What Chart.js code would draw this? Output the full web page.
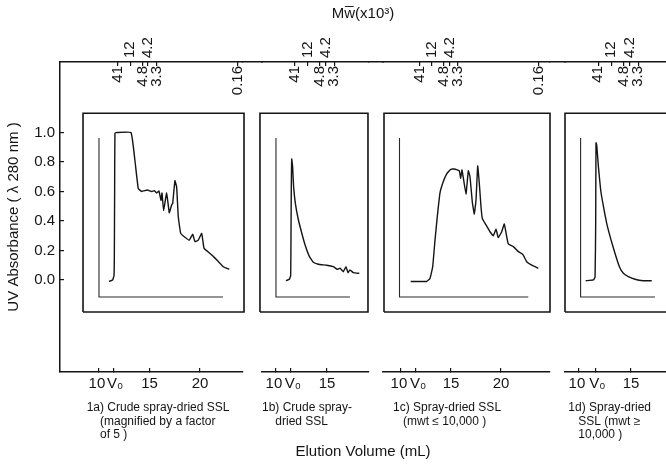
<!DOCTYPE html>
<html><head><meta charset="utf-8">
<script src="https://cdn.jsdelivr.net/npm/chart.js@4.4.1/dist/chart.umd.min.js"></script>
<style>
html,body{margin:0;padding:0;background:#fff;}
#wrap{position:relative;width:666px;height:465px;overflow:hidden;}
#main{position:absolute;left:0;top:0;width:666px;height:465px;}
#over{position:absolute;left:0;top:0;width:666px;height:120px;pointer-events:none;}
</style></head><body>
<div id="wrap"><canvas id="main" width="666" height="465"></canvas><canvas id="over" width="666" height="120"></canvas></div>
<script>
// ---------- data ----------
const panelIds = ['a', 'b', 'c', 'd'];
const captions = [
  ['        1a) Crude spray-dried SSL', '            (magnified by a factor', '            of 5 )'],
  ['1b) Crude spray-', '    dried SSL', ''],
  ['   1c) Spray-dried SSL', '      (mwt \u2264 10,000 )', ''],
  [' 1d) Spray-dried', '    SSL (mwt \u2265', '    10,000 )']
];
const yTicks = [0, 0.2, 0.4, 0.6, 0.8, 1.0];
const volTicks = [[10, 11.4, 15, 20], [10, 11.45, 15], [10, 11.5, 15, 20], [10, 11.55, 15]];
const volTickLabels = [['10 ', ' V\u2080', '15', '20'], ['10 ', ' V\u2080', '15'], ['10 ', ' V\u2080', '15', '20'], ['10 ', ' V\u2080', '15']];
const mwVol = [11.85, 13.1, 14.3, 14.85, 15.7, 23.75];
const mwLabels = ['41', '12', '4.8', '4.2', '3.3', '0.16'];
const mwAbove = [false, true, false, true, false, false];

const volA = [10.99, 11.35, 11.49, 11.52, 11.55, 11.58, 11.75, 13.17, 13.56, 13.89, 14.22, 14.78, 15.22, 15.48, 15.71, 15.94, 16.14, 16.24, 16.4, 16.7, 16.96, 17.2, 17.3, 17.52, 17.69, 17.85, 18.09, 18.51, 18.94, 19.28, 19.5, 19.83, 20.17, 20.4, 20.82, 21.32, 21.81, 22.31, 22.9];
const absA = [-0.01, 0.0, 0.03, 0.16, 0.61, 0.995, 1.0, 1.0, 0.81, 0.62, 0.60, 0.61, 0.60, 0.605, 0.59, 0.603, 0.54, 0.59, 0.47, 0.59, 0.456, 0.51, 0.52, 0.673, 0.63, 0.43, 0.316, 0.29, 0.27, 0.31, 0.26, 0.27, 0.316, 0.215, 0.19, 0.16, 0.125, 0.09, 0.072];
const volB = [10.98, 11.31, 11.44, 11.47, 11.5, 11.54, 11.63, 11.73, 11.9, 12.19, 12.52, 12.84, 13.27, 13.66, 14.15, 14.97, 15.62, 16.01, 16.27, 16.6, 16.86, 17.06, 17.25, 17.58, 18.17];
const absB = [-0.005, 0.005, 0.03, 0.27, 0.61, 0.82, 0.77, 0.63, 0.52, 0.41, 0.32, 0.24, 0.16, 0.12, 0.107, 0.10, 0.09, 0.072, 0.08, 0.056, 0.09, 0.05, 0.068, 0.05, 0.045];
const volC = [10.97, 12.57, 12.9, 13.17, 13.4, 13.63, 13.9, 14.23, 14.57, 14.97, 15.3, 15.63, 15.83, 15.97, 16.1, 16.5, 16.73, 16.9, 17.13, 17.33, 17.5, 17.67, 17.83, 18.0, 18.13, 18.5, 18.9, 19.23, 19.5, 19.73, 20.07, 20.33, 20.57, 20.73, 21.23, 21.73, 22.17, 22.57, 23.07, 23.73];
const absC = [-0.01, -0.01, 0.01, 0.09, 0.27, 0.43, 0.59, 0.667, 0.72, 0.75, 0.752, 0.746, 0.74, 0.69, 0.746, 0.583, 0.74, 0.70, 0.53, 0.447, 0.54, 0.773, 0.655, 0.497, 0.418, 0.373, 0.327, 0.30, 0.344, 0.287, 0.327, 0.38, 0.294, 0.244, 0.226, 0.192, 0.174, 0.124, 0.10, 0.079];
const volD = [10.64, 11.38, 11.54, 11.6, 11.63, 11.7, 11.86, 12.08, 12.34, 12.66, 13.08, 13.46, 13.88, 14.26, 14.74, 15.38, 16.18, 16.99];
const absD = [-0.005, 0.0, 0.02, 0.38, 0.93, 0.915, 0.77, 0.61, 0.50, 0.384, 0.27, 0.18, 0.09, 0.045, 0.023, 0.005, -0.005, -0.005];

// panel frames and inner axes (in data units)
const frameVol = [[8.42, 24.36], [8.43, 19.02], [8.3, 24.9], [8.65, 20]];
const frameAbs = [-0.217, 1.13];
const innerVol = [[10, 22.28], [10, 17.25], [9.85, 22.73], [10.15, 17.3]];
const innerAbs = [-0.115, 0.963];

// axis ranges per panel
const panelRange = [[6.14, 24.26], [8.63, 19.12], [8.2, 24.9], [8.65, 18.36]];
const absRange = [-0.624, 1.478];

// ---------- layout / style ----------
const panelWeights = [183, 107, 167, 101];
const gapWeights = [19, 14, 15];
const F = "'Liberation Sans', Arial, sans-serif";
const INK = '#141414';
const MW_FONT = 15;

const vols = [volA, volB, volC, volD];
const abss = [absA, absB, absC, absD];

function mk(xs, ys) { return xs.map((x, k) => ({x: x, y: ys[k]})); }
function noPad(s) { s.paddingLeft = 0; s.paddingRight = 0; s.paddingTop = 0; s.paddingBottom = 0; }

const datasets = [];
panelIds.forEach((id, i) => {
  const fx = frameVol[i], iv = innerVol[i];
  datasets.push({
    data: [{x: fx[0], y: frameAbs[0]}, {x: fx[1], y: frameAbs[0]}, {x: fx[1], y: frameAbs[1]}, {x: fx[0], y: frameAbs[1]}, {x: fx[0], y: frameAbs[0]}],
    xAxisID: 'x' + id, yAxisID: 'y', borderColor: INK, borderWidth: 1.6, pointRadius: 0, showLine: true, clip: false, borderJoinStyle: 'miter'
  });
  datasets.push({
    data: [{x: iv[0], y: innerAbs[1]}, {x: iv[0], y: innerAbs[0]}, {x: iv[1], y: innerAbs[0]}],
    xAxisID: 'x' + id, yAxisID: 'y', borderColor: '#2a2a2a', borderWidth: 1.1, pointRadius: 0, showLine: true, clip: false
  });
  datasets.push({
    data: mk(vols[i], abss[i]),
    xAxisID: 'x' + id, yAxisID: 'y', borderColor: INK, borderWidth: 1.4, pointRadius: 0, showLine: true, clip: false, tension: 0.1
  });
});

const axisLine = {color: INK, width: 1.5};
const scales = {
  x: {type: 'linear', display: false},
  y: {
    type: 'linear', position: 'left', min: absRange[0], max: absRange[1], bounds: 'data',
    afterBuildTicks: s => { s.ticks = yTicks.map(v => ({value: v})); },
    afterFit: s => { s.width = 60; noPad(s); },
    ticks: {callback: v => Number(v).toFixed(1), font: {size: 15, family: F}, color: INK, padding: 9},
    grid: {drawOnChartArea: false, tickLength: -4, color: INK, lineWidth: 1.2},
    border: axisLine,
    title: {display: true, text: 'UV Absorbance ( \u03bb 280 nm )', font: {size: 15, family: F}, color: INK, padding: {top: 5, bottom: 0}}
  }
};
// bottom elution-volume axes (stacked side by side, left to right)
panelIds.forEach((id, i) => {
  const r = panelRange[i];
  scales['x' + id] = {
    type: 'linear', axis: 'x', position: 'bottom', stack: 'vol', stackWeight: panelWeights[i],
    min: r[0], max: r[1], bounds: 'data',
    afterBuildTicks: s => { s.ticks = volTicks[i].map(v => ({value: v})); },
    afterFit: s => { s.height = 70; noPad(s); },
    ticks: {autoSkip: false, minRotation: 0, maxRotation: 0, padding: 7, font: {size: 15, family: F}, color: INK,
      callback: (v, k) => volTickLabels[i][k]},
    grid: {drawOnChartArea: false, tickLength: -4, color: INK, lineWidth: 1.2},
    border: axisLine,
    title: {display: true, text: captions[i], align: 'start', font: {size: 12, lineHeight: 1.1, family: F}, color: INK, padding: {top: 0, bottom: 1}}
  };
  if (i < 3) {
    scales['xg' + (i + 1)] = {type: 'linear', axis: 'x', position: 'bottom', stack: 'vol', stackWeight: gapWeights[i], min: 0, max: 1, display: false,
      afterFit: noPad};
  }
});
// top Mw axes (labels above the line); top boxes are laid out in reverse order, so define right-to-left
for (let i = panelIds.length - 1; i >= 0; i--) {
  const id = panelIds[i];
  const r = panelRange[i];
  scales['t' + id] = {
    type: 'linear', axis: 'x', position: 'top', stack: 'mw', stackWeight: panelWeights[i],
    min: r[0], max: r[1], bounds: 'data',
    afterBuildTicks: s => { s.ticks = mwVol.filter(v => v >= r[0] && v <= r[1]).map(v => ({value: v})); },
    afterFit: s => { s.height = 40; noPad(s); },
    ticks: {autoSkip: false, minRotation: 90, maxRotation: 90, padding: 8, labelOffset: MW_FONT * 1.2,
      font: {size: MW_FONT, family: F}, color: INK,
      callback: v => { const k = mwVol.indexOf(v); return (k >= 0 && mwAbove[k]) ? mwLabels[k] : ''; }},
    grid: {drawOnChartArea: false, tickLength: -4, color: INK, lineWidth: 1.2},
    border: axisLine
  };
  if (i > 0) {
    scales['tg' + i] = {type: 'linear', axis: 'x', position: 'top', stack: 'mw', stackWeight: gapWeights[i - 1], min: 0, max: 1,
      afterFit: s => { s.height = 40; noPad(s); },
      ticks: {display: false}, grid: {display: false, drawTicks: false}, border: axisLine};
  }
}

new Chart(document.getElementById('main'), {
  type: 'scatter',
  data: {datasets: datasets},
  options: {
    responsive: false, animation: false, devicePixelRatio: 1,
    layout: {padding: {top: 22, left: 0, right: 0, bottom: 0}},
    plugins: {
      legend: {display: false}, tooltip: {enabled: false}, title: {display: false},
      subtitle: {display: true, position: 'bottom', fullSize: false, text: 'Elution Volume (mL)', color: INK,
        font: {size: 15, family: F, weight: 'normal'}, padding: {top: 1, bottom: 4}}
    },
    scales: scales
  }
});

// overlay chart: Mw labels below the top line + title
const oscales = {x: {type: 'linear', display: false}, y: {type: 'linear', display: false}};
panelIds.forEach((id, i) => {
  const r = panelRange[i];
  oscales['o' + id] = {
    type: 'linear', axis: 'x', position: 'bottom', stack: 'mwb', stackWeight: panelWeights[i],
    min: r[0], max: r[1], bounds: 'data',
    afterBuildTicks: s => { s.ticks = mwVol.filter(v => v >= r[0] && v <= r[1]).map(v => ({value: v})); },
    afterFit: s => { s.height = 58; noPad(s); },
    ticks: {autoSkip: false, minRotation: 90, maxRotation: 90, padding: 4, font: {size: MW_FONT, family: F}, color: INK,
      callback: v => { const k = mwVol.indexOf(v); return (k >= 0 && !mwAbove[k]) ? mwLabels[k] : ''; }},
    grid: {display: false, drawTicks: false, drawOnChartArea: false},
    border: {display: false}
  };
  if (i < 3) {
    oscales['og' + (i + 1)] = {type: 'linear', axis: 'x', position: 'bottom', stack: 'mwb', stackWeight: gapWeights[i], min: 0, max: 1, display: false,
      afterFit: noPad};
  }
});
new Chart(document.getElementById('over'), {
  type: 'scatter',
  data: {datasets: []},
  options: {
    responsive: false, animation: false, devicePixelRatio: 1,
    layout: {padding: {top: 0, left: 60, right: 0, bottom: 0}},
    plugins: {
      legend: {display: false}, tooltip: {enabled: false},
      title: {display: true, fullSize: false, text: 'Mw\u0305(x10\u00b3)', color: INK, font: {size: 15, family: F, weight: 'normal'}, padding: {top: 5, bottom: 4}}
    },
    scales: oscales
  }
});
</script>
</body></html>
